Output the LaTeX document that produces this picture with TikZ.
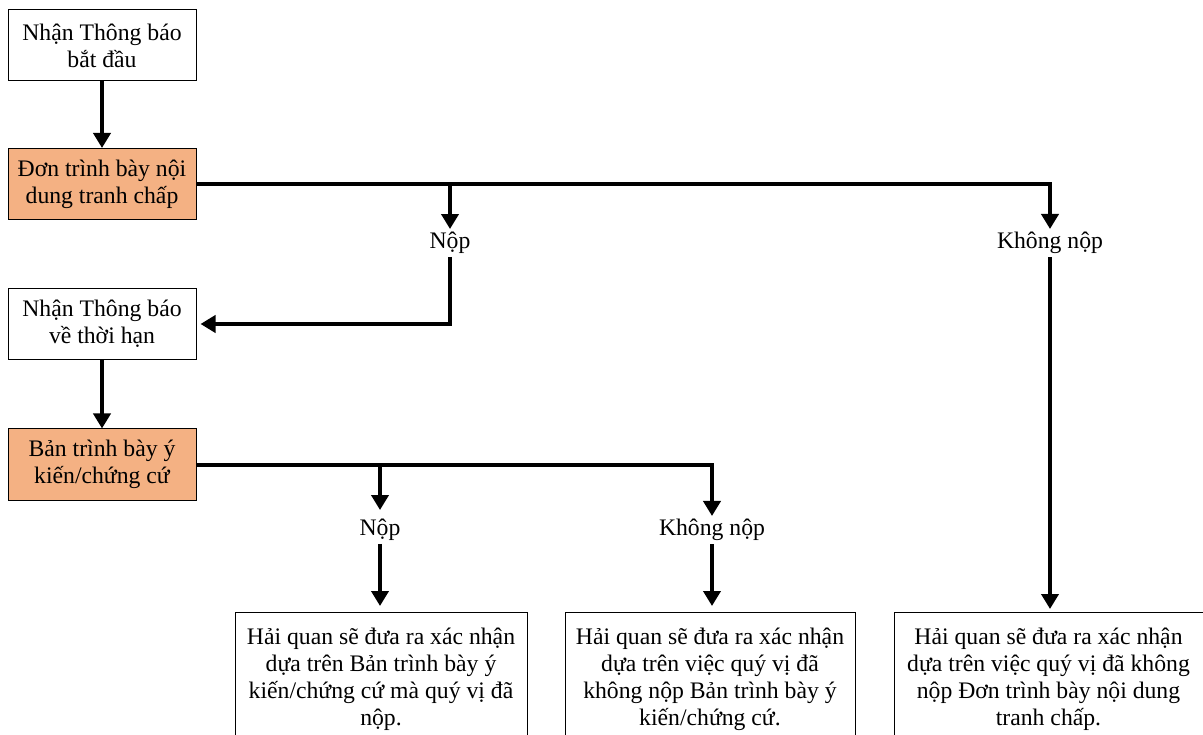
\documentclass[tikz,border=0pt]{standalone}
\usepackage{fontspec}
\setmainfont{Liberation Serif}
\usetikzlibrary{arrows.meta}
\definecolor{steporange}{HTML}{F4B183}

\begin{document}
\begin{tikzpicture}[x=1pt, y=-1pt, line join=miter,
	flow/.style={line width=4pt, -{Triangle[width=17pt,length=15pt]}},
	stepbox/.style={draw, line width=1pt, align=center, minimum width=188pt, minimum height=71pt, inner sep=2pt},
	filedbox/.style={stepbox, fill=steporange},
	resultbox/.style={draw, line width=1pt, align=center, anchor=north, inner xsep=2pt, inner ysep=16pt, text depth=110pt},
	choice/.style={inner sep=3pt}]
	\fontsize{23.7}{27}\selectfont
	\clip (0,0) rectangle (1203,735);
	
	% ===== Left column: notices and submissions =====
	\node[stepbox] (notice) at (102,45.5) {Nhận Thông báo\\bắt đầu};
	\node[filedbox] (claim) at (102,184) {Đơn trình bày nội\\dung tranh chấp};
	\node[stepbox] (deadline) at (102,324) {Nhận Thông báo\\về thời hạn};
	\node[filedbox] (opinion) at (102,464.5) {Bản trình bày ý\\kiến/chứng cứ};
	
	% labels of the branches
	\node[choice] (filed1) at (450,243) {Nộp};
	\node[choice] (notfiled1) at (1050,243) {Không nộp};
	\node[choice] (filed2) at (380,530) {Nộp};
	\node[choice] (notfiled2) at (712,530) {Không nộp};
	
	% ===== Bottom: what customs decides =====
	\node[resultbox, minimum width=292pt] (result1) at (381,612)
	{Hải quan sẽ đưa ra xác nhận\\dựa trên Bản trình bày ý\\kiến/chứng cứ mà quý vị đã\\nộp.};
	\node[resultbox, minimum width=290pt] (result2) at (710,612)
	{Hải quan sẽ đưa ra xác nhận\\dựa trên việc quý vị đã\\không nộp Bản trình bày ý\\kiến/chứng cứ.};
	\node[resultbox, minimum width=309pt] (result3) at (1048.5,612)
	{Hải quan sẽ đưa ra xác nhận\\dựa trên việc quý vị đã không\\nộp Đơn trình bày nội dung\\tranh chấp.};
	
	% ===== Connectors =====
	\draw[flow] (notice) -- (claim);
	\draw[flow] (claim.east) -| (notfiled1.north);
	\draw[flow] (claim.east -| filed1) -- (filed1.north);
	\draw[flow, shorten >=4pt] (filed1.south) |- (deadline.east);
	\draw[flow, shorten >=3pt] (notfiled1.south) -- (notfiled1 |- result3.north);
	
	\draw[flow] (deadline) -- (opinion);
	\draw[flow] (opinion.east) -| (notfiled2.north);
	\draw[flow, shorten >=6pt] (opinion.east -| filed2) -- (filed2.north);
	\draw[flow, shorten >=6pt] (filed2.south) -- (filed2 |- result1.north);
	\draw[flow, shorten >=6pt] (notfiled2.south) -- (notfiled2 |- result2.north);
	
\end{tikzpicture}
\end{document}
